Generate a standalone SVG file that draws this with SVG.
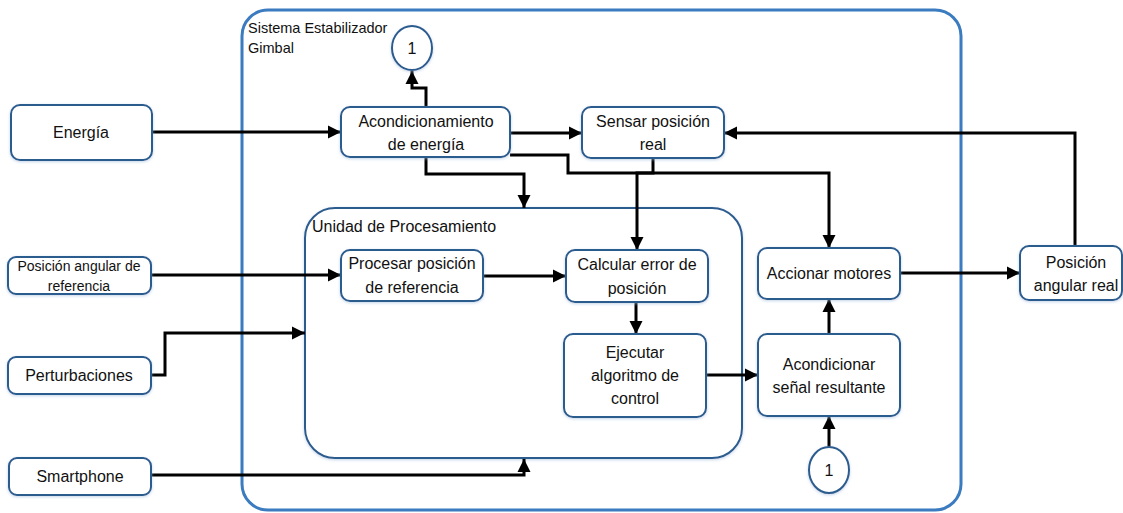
<svg xmlns="http://www.w3.org/2000/svg" width="1123" height="513" viewBox="0 0 1123 513">
<style>
.node{fill:#fff;stroke:#2c5b8e;stroke-width:2;filter:url(#sh)}
.t{font-family:"Liberation Sans",Arial,sans-serif;font-size:16px;fill:#111;text-anchor:middle}
.s{font-size:14px}
.w{fill:none;stroke:#000;stroke-width:3;marker-end:url(#ah)}
.lbl{font-family:"Liberation Sans",Arial,sans-serif;fill:#111}
</style>
<defs>
<filter id="sh" x="-10%" y="-20%" width="120%" height="140%">
<feDropShadow dx="0" dy="1" stdDeviation="1.5" flood-color="#9db8dc" flood-opacity="0.6"/>
</filter>
<marker id="ah" markerUnits="userSpaceOnUse" markerWidth="14" markerHeight="14" refX="13" refY="7" orient="auto">
<path d="M0,0.5 L13,7 L0,13.5 z" fill="#000"/>
</marker>
</defs>
<rect width="1123" height="513" fill="#fff"/>
<g id="sistema">
<rect x="242" y="10" width="719" height="500" rx="26" fill="#fff" stroke="#3b7bbf" stroke-width="3"/>
<text class="lbl" x="248" y="33" font-size="14.5">Sistema Estabilizador</text>
<text class="lbl" x="248" y="53" font-size="14.5">Gimbal</text>
</g>
<g id="unidad">
<rect x="305" y="208" width="437" height="250" rx="30" fill="#fff" stroke="#2c5b8e" stroke-width="2" filter="url(#sh)"/>
<text class="lbl" x="312" y="232" font-size="16">Unidad de Procesamiento</text>
</g>
<g id="connectors">
<path class="w" d="M152,132 H341"/>
<path class="w" d="M426,106 V88 H412 V71"/>
<path class="w" d="M510,133 H582"/>
<path class="w" d="M1075,246 V133 H724"/>
<path class="w" d="M510,155 H568 V173 H829 V248"/>
<path class="w" d="M653,158 V173 H637 V250"/>
<path class="w" d="M426,158 V174 H524 V208"/>
<path class="w" d="M151,275 H341"/>
<path class="w" d="M151,375 H165 V333 H305"/>
<path class="w" d="M151,475 H524 V459"/>
<path class="w" d="M483,276 H566"/>
<path class="w" d="M636,302 V334"/>
<path class="w" d="M706,375 H758"/>
<path class="w" d="M829,334 V299"/>
<path class="w" d="M829,447 V416"/>
<path class="w" d="M900,273 H1020"/>
</g>
<g id="energia">
<rect class="node" x="11" y="105" width="141" height="55" rx="9"/>
<text class="t" x="81" y="138" font-size="15">Energía</text>
</g>
<g id="posref">
<rect class="node" x="8" y="257" width="143" height="37" rx="8"/>
<text class="t s" x="79" y="271">Posición angular de</text>
<text class="t s" x="79" y="291">referencia</text>
</g>
<g id="perturbaciones">
<rect class="node" x="8" y="357" width="143" height="37" rx="8"/>
<text class="t" x="79" y="381" font-size="13.5">Perturbaciones</text>
</g>
<g id="smartphone">
<rect class="node" x="9" y="458" width="142" height="37" rx="8"/>
<text class="t" x="80" y="482" font-size="13.5">Smartphone</text>
</g>
<g id="circulo1top">
<ellipse class="node" cx="412" cy="48" rx="20" ry="22"/>
<text class="t" x="412" y="54" font-size="15">1</text>
</g>
<g id="acondicionamiento">
<rect class="node" x="341" y="107" width="169" height="50" rx="9"/>
<text class="t" x="426" y="127">Acondicionamiento</text>
<text class="t" x="426" y="150">de energía</text>
</g>
<g id="sensar">
<rect class="node" x="582" y="107" width="142" height="51" rx="9"/>
<text class="t" x="653" y="127">Sensar posición</text>
<text class="t" x="653" y="150">real</text>
</g>
<g id="procesar">
<rect class="node" x="341" y="250" width="142" height="51" rx="9"/>
<text class="t" x="412" y="269">Procesar posición</text>
<text class="t" x="412" y="293">de referencia</text>
</g>
<g id="calcular">
<rect class="node" x="566" y="250" width="142" height="52" rx="9"/>
<text class="t" x="637" y="270">Calcular error de</text>
<text class="t" x="637" y="294">posición</text>
</g>
<g id="ejecutar">
<rect class="node" x="564" y="334" width="142" height="83" rx="9"/>
<text class="t" x="635" y="358">Ejecutar</text>
<text class="t" x="635" y="381">algoritmo de</text>
<text class="t" x="635" y="404">control</text>
</g>
<g id="acondicionar">
<rect class="node" x="758" y="334" width="142" height="82" rx="9"/>
<text class="t" x="829" y="370">Acondicionar</text>
<text class="t" x="829" y="393">señal resultante</text>
</g>
<g id="accionar">
<rect class="node" x="758" y="248" width="142" height="51" rx="9"/>
<text class="t" x="829" y="279">Accionar motores</text>
</g>
<g id="circulo1bottom">
<ellipse class="node" cx="829" cy="470" rx="20" ry="23"/>
<text class="t" x="829" y="476" font-size="15">1</text>
</g>
<g id="posreal">
<rect class="node" x="1020" y="246" width="102" height="54" rx="9"/>
<text class="t" x="1076" y="268">Posición</text>
<text class="t" x="1076" y="291">angular real</text>
</g>
</svg>
